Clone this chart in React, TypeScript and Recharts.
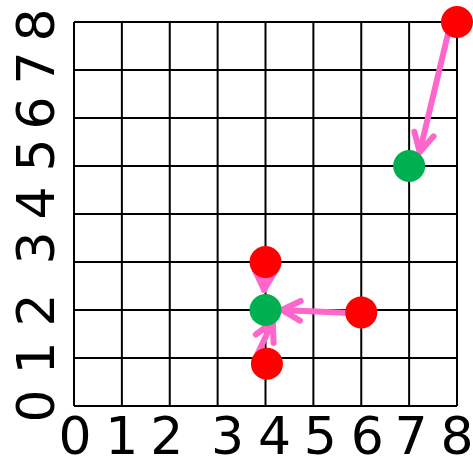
import React from 'react';
import { ScatterChart, Scatter, XAxis, YAxis, CartesianGrid, ReferenceLine } from 'recharts';

const ticks = [0, 1, 2, 3, 4, 5, 6, 7, 8];
const tickLabels = ['0', '1', '2', '3', '4', '5', '6', '7', '8'];

const redPoints = [
  { x: 8, y: 8 },
  { x: 4, y: 3 },
  { x: 6, y: 1.95 },
  { x: 4.03, y: 0.88 },
];
const greenPoints = [
  { x: 7, y: 5 },
  { x: 4, y: 2 },
];

const arrowStarts = [
  { x: 7.83, y: 7.83 },
  { x: 3.99, y: 2.83 },
  { x: 5.76, y: 1.94 },
  { x: 3.84, y: 1.1 },
];
const arrowEnds = [
  { x: 7.22, y: 5.29 },
  { x: 3.97, y: 2.42 },
  { x: 4.34, y: 2.0 },
  { x: 4.15, y: 1.75 },
];

const PINK = '#FF66CC';
const FONT = 'DejaVu Sans';

const xOffsets = [1, 0, -3, 10, 9, 7, 6, 2, 0];
const yOffsets = [0, 0, 0, -14, -11, -11, -5, -2, 3];

const XTick = (props: any) => {
  const { x, y, payload } = props;
  const i = ticks.indexOf(payload.value);
  return (
    <text x={x + (xOffsets[i] || 0)} y={y + 48} textAnchor="middle" fontSize={52} fontFamily={FONT} fill="#000">
      {tickLabels[i]}
    </text>
  );
};

const YTick = (props: any) => {
  const { x, y, payload } = props;
  const i = ticks.indexOf(payload.value);
  const X = x - 20;
  const Y = y + (yOffsets[i] || 0);
  return (
    <text transform={`translate(${X},${Y}) rotate(-90)`} x={0} y={0} textAnchor="middle" fontSize={52} fontFamily={FONT} fill="#000">
      {tickLabels[i]}
    </text>
  );
};

const Dot = (color: string) => (props: any) => {
  const { cx, cy } = props;
  return <circle cx={cx} cy={cy} r={16} fill={color} />;
};

const ArrowShape = (props: any) => {
  const { x1, y1, x2, y2 } = props;
  const dx = x2 - x1;
  const dy = y2 - y1;
  const len = Math.sqrt(dx * dx + dy * dy) || 1;
  const bx = -dx / len;
  const by = -dy / len;
  const a = (28 * Math.PI) / 180;
  const L = 21;
  const r1x = bx * Math.cos(a) - by * Math.sin(a);
  const r1y = bx * Math.sin(a) + by * Math.cos(a);
  const r2x = bx * Math.cos(-a) - by * Math.sin(-a);
  const r2y = bx * Math.sin(-a) + by * Math.cos(-a);
  return (
    <g>
      <line x1={x1} y1={y1} x2={x2} y2={y2} stroke={PINK} strokeWidth={6} strokeLinecap="round" />
      <polyline
        points={`${x2 + r1x * L},${y2 + r1y * L} ${x2},${y2} ${x2 + r2x * L},${y2 + r2y * L}`}
        fill="none"
        stroke={PINK}
        strokeWidth={6}
        strokeLinecap="round"
        strokeLinejoin="round"
      />
    </g>
  );
};

export default function App() {
  return (
    <div style={{ position: 'absolute', left: 0, top: 0, background: '#fff' }}>
      <ScatterChart width={473} height={459} margin={{ top: 22, right: 16, bottom: 0, left: 0 }}>
        <CartesianGrid stroke="#000" strokeWidth={2} horizontalValues={ticks} verticalValues={ticks} />
        <XAxis
          type="number"
          dataKey="x"
          domain={[0, 8]}
          ticks={ticks}
          height={53}
          tickLine={false}
          tickSize={0}
          tickMargin={0}
          axisLine={{ stroke: '#000', strokeWidth: 2 }}
          tick={<XTick />}
          interval={0}
        />
        <YAxis
          type="number"
          dataKey="y"
          domain={[0, 8]}
          ticks={ticks}
          width={74}
          tickLine={false}
          tickSize={0}
          tickMargin={0}
          axisLine={{ stroke: '#000', strokeWidth: 2 }}
          tick={<YTick />}
          interval={0}
        />
        <Scatter data={greenPoints} fill="#00B050" shape={Dot('#00B050')} isAnimationActive={false} />
        <Scatter data={redPoints} fill="#FF0000" shape={Dot('#FF0000')} isAnimationActive={false} />
        {arrowStarts.map((s, i) => (
          <ReferenceLine
            key={i}
            segment={[s, arrowEnds[i]]}
            ifOverflow="visible"
            shape={ArrowShape}
            stroke={PINK}
          />
        ))}
      </ScatterChart>
    </div>
  );
}
